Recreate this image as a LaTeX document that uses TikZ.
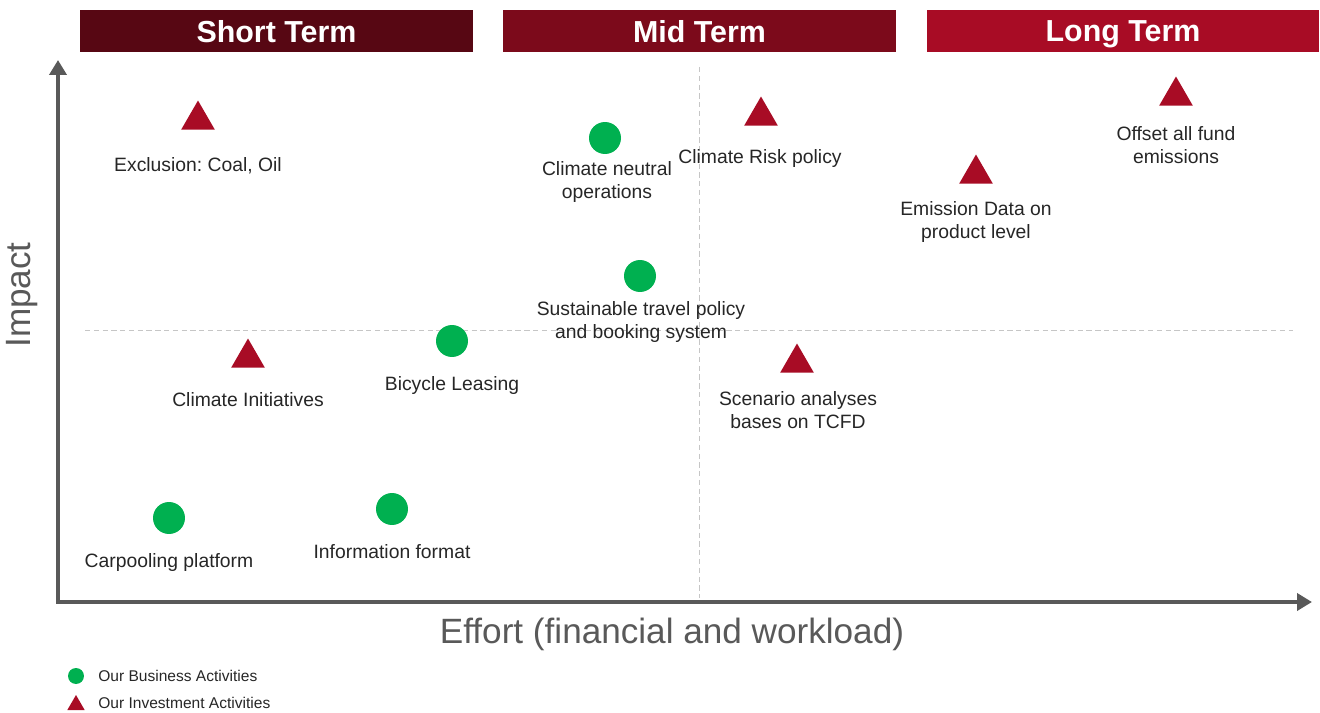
\documentclass[tikz,border=0pt]{standalone}
\usepackage{fontspec}
\setmainfont{Liberation Sans}
\frenchspacing
\usetikzlibrary{arrows.meta,shapes.geometric}
\definecolor{shortred}{HTML}{570713}
\definecolor{midred}{HTML}{7C0A1B}
\definecolor{longred}{HTML}{A80C25}
\definecolor{bizgreen}{HTML}{00B050}
\definecolor{axisgray}{HTML}{595959}
\definecolor{labelgray}{HTML}{262626}
\tikzset{
	termbar/.style={minimum width=7.86cm, minimum height=0.84cm, inner sep=0pt, text depth=0pt, text=white, font=\fontsize{17.3}{20}\bfseries},
	biz/.style={circle, fill=bizgreen, minimum size=0.64cm, inner sep=0pt},
	invest/.style={regular polygon, regular polygon sides=3, fill=longred, minimum size=0.78cm, inner sep=0pt},
	smallbiz/.style={biz, minimum size=0.32cm},
	smallinvest/.style={invest, minimum size=0.4cm},
	lbl/.style={align=center, text=labelgray, inner sep=0pt, font=\fontsize{11}{13}\selectfont},
	legendtxt/.style={anchor=west, text=labelgray, inner sep=0pt, font=\fontsize{8.85}{10}\selectfont},
	axislbl/.style={text=axisgray, inner sep=0pt, font=\fontsize{20}{24}\selectfont},
	quadline/.style={gray!45, line width=0.5pt, dash pattern=on 3pt off 2pt},
	axisline/.style={axisgray, line width=2.3pt, {Triangle[length=0.3cm,width=0.34cm]}-{Triangle[length=0.3cm,width=0.34cm]}}
}

\begin{document}
\begin{tikzpicture}[x=0.02cm, y=-0.02cm]
		\useasboundingbox (0,0) rectangle (1320,713);
		
		%%%%% TERMS %%%%%
		\node[termbar, fill=shortred] (short) at (276.5,31) {Short Term};
		\node[termbar, fill=midred] (mid) at (699.5,31) {Mid Term};
		\node[termbar, fill=longred] (long) at (1123,31) {Long Term};
		
		%%%%% QUADRANTS %%%%%
		\coordinate (vtop) at (699,67);
		\coordinate (vbot) at (699,598);
		\coordinate (hleft) at (85,330);
		\coordinate (hright) at (1293,330);
		\draw[quadline] (vtop) -- (vbot);
		\draw[quadline] (hleft) -- (hright);
		
		%%%%% AXES %%%%%
		\coordinate (ytip) at (58,60);
		\coordinate (origin) at (58,602);
		\coordinate (xtip) at (1312,602);
		\draw[axisline] (ytip) -- (origin) -- (xtip);
		\node[axislbl, rotate=90] (impact) at (22,295) {Impact};
		\node[axislbl] (effort) at (672,634) {Effort (financial and workload)};
		
		%%%%% ACTIVITIES %%%%%
		\node[invest] (excl) at (198,120) {};
		\node[lbl] (excl-l) at (198,166) {Exclusion: Coal, Oil};
		
		\node[biz] (neutral) at (605,138) {};
		\node[lbl] (neutral-l) at (607,182) {Climate neutral\\operations};
		
		\node[invest] (risk) at (761,116) {};
		\node[lbl] (risk-l) at (760,159) {Climate Risk policy};
		
		\node[invest] (offset) at (1176,96) {};
		\node[lbl] (offset-l) at (1176,145) {Offset all fund\\emissions};
		
		\node[invest] (emission) at (976,174) {};
		\node[lbl] (emission-l) at (976,222) {Emission Data on\\product level};
		
		\node[biz] (travel) at (640,276) {};
		\node[lbl] (travel-l) at (641,322) {Sustainable travel policy\\and booking system};
		
		\node[biz] (bicycle) at (452,341) {};
		\node[lbl] (bicycle-l) at (452,386) {Bicycle Leasing};
		
		\node[invest] (initiatives) at (248,358) {};
		\node[lbl] (initiatives-l) at (248,400) {Climate Initiatives};
		
		\node[invest] (scenario) at (797,363) {};
		\node[lbl] (scenario-l) at (798,410) {Scenario analyses\\bases on TCFD};
		
		\node[biz] (carpool) at (169,518) {};
		\node[lbl] (carpool-l) at (169,563) {Carpooling platform};
		
		\node[biz] (info) at (392,509) {};
		\node[lbl] (info-l) at (392,552) {Information format};
		
		%%%%% LEGEND %%%%%
		\node[smallbiz] (leg-biz) at (76,676) {};
		\node[legendtxt] (leg-biz-l) at (98,676) {Our Business Activities};
		\node[smallinvest] (leg-inv) at (76,705) {};
		\node[legendtxt] (leg-inv-l) at (98,703) {Our Investment Activities};
		
	\end{tikzpicture}
\end{document}
